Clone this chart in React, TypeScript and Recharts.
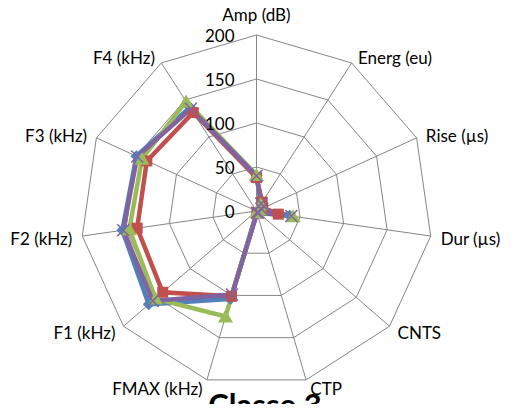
import React from "react";
import { RadarChart, Radar, PolarGrid, PolarAngleAxis, PolarRadiusAxis } from "recharts";

// axes of the radar, clockwise from the top
const categories = [
  "Amp (dB)",
  "Energ (eu)",
  "Rise (µs)",
  "Dur (µs)",
  "CNTS",
  "CTP",
  "FMAX (kHz)",
  "F1 (kHz)",
  "F2 (kHz)",
  "F3 (kHz)",
  "F4 (kHz)",
];

const serieBlue = [40, 10, 6, 38, 3, 2, 104, 162, 154, 150, 140];
const serieRed = [38, 12, 8, 25, 3, 2, 101, 141, 137, 137, 133];
const serieGreen = [41, 9, 5, 42, 2, 1, 125, 152, 146, 143, 148];
const seriePurple = [40, 10, 6, 40, 3, 2, 99, 156, 153, 149, 138];

const radiusTicks = [0, 50, 100, 150, 200];
const title = "Classe 3";

const data = categories.map((axis, i) => ({
  axis,
  blue: serieBlue[i],
  red: serieRed[i],
  green: serieGreen[i],
  purple: seriePurple[i],
}));

const FONT = "Lato, 'Open Sans', sans-serif";

const AngleTick = (props: any) => {
  const { x, y, payload, textAnchor } = props;
  const top = textAnchor === "middle" && y < 211;
  const dx = textAnchor === "start" ? 2 : textAnchor === "end" ? -2 : 0;
  return (
    <text
      x={x + dx}
      y={top ? y - 6 : y + 1}
      textAnchor={textAnchor}
      dominantBaseline={top ? "auto" : "central"}
      fontFamily={FONT}
      fontSize={17}
      fill="#000"
    >
      {payload.value}
    </text>
  );
};

const RadiusTick = (props: any) => {
  const { x, y, payload } = props;
  return (
    <text
      x={x - 22}
      y={y}
      textAnchor="end"
      dominantBaseline="central"
      fontFamily={FONT}
      fontSize={17}
      fill="#000"
    >
      {payload.value}
    </text>
  );
};

const diamond = (color: string) => (p: any) => {
  const { cx, cy, index } = p;
  const s = 6;
  return (
    <path
      key={"d" + index}
      d={`M${cx},${cy - s}L${cx + s},${cy}L${cx},${cy + s}L${cx - s},${cy}Z`}
      fill={color}
    />
  );
};

const square = (color: string) => (p: any) => {
  const { cx, cy, index } = p;
  return <rect key={"s" + index} x={cx - 5.5} y={cy - 5.5} width={11} height={11} fill={color} />;
};

const triangle = (color: string) => (p: any) => {
  const { cx, cy, index } = p;
  return (
    <path
      key={"t" + index}
      d={`M${cx},${cy - 7}L${cx + 7.5},${cy + 6}L${cx - 7.5},${cy + 6}Z`}
      fill={color}
    />
  );
};

const cross = (color: string) => (p: any) => {
  const { cx, cy, index } = p;
  const s = 6;
  return (
    <path
      key={"x" + index}
      d={`M${cx - s},${cy - s}L${cx + s},${cy + s}M${cx - s},${cy + s}L${cx + s},${cy - s}`}
      stroke={color}
      strokeWidth={1.5}
      fill="none"
    />
  );
};

export default function App() {
  return (
    <div style={{ margin: -8, width: 514, height: 412, position: "relative", overflow: "hidden", background: "#fff" }}>
      <RadarChart
        width={514}
        height={412}
        data={data}
        cx={256.5}
        cy={211}
        outerRadius={176}
        margin={{ top: 0, right: 0, bottom: 0, left: 0 }}
      >
        <PolarGrid gridType="polygon" stroke="#868686" strokeWidth={1} />
        <PolarAngleAxis dataKey="axis" tick={<AngleTick />} tickLine={false} axisLine={false} />
        <PolarRadiusAxis
          angle={90}
          domain={[0, 200]}
          ticks={radiusTicks as any}
          tickCount={5}
          axisLine={false}
          tickLine={false}
          tick={<RadiusTick />}
        />
        <Radar name="Série 1" dataKey="blue" stroke="#4F81BD" strokeWidth={4.5} fill="none" fillOpacity={0} dot={diamond("#4F81BD")} isAnimationActive={false} />
        <Radar name="Série 2" dataKey="red" stroke="#C0504D" strokeWidth={4.5} fill="none" fillOpacity={0} dot={square("#C0504D")} isAnimationActive={false} />
        <Radar name="Série 3" dataKey="green" stroke="#9BBB59" strokeWidth={4.5} fill="none" fillOpacity={0} dot={triangle("#9BBB59")} isAnimationActive={false} />
        <Radar name="Série 4" dataKey="purple" stroke="#8064A2" strokeWidth={4.5} fill="none" fillOpacity={0} dot={cross("#8064A2")} isAnimationActive={false} />
      </RadarChart>
      <svg width={514} height={412} style={{ position: "absolute", left: 0, top: 0, pointerEvents: "none" }}>
        <text x={265} y={416} textAnchor="middle" fontFamily={FONT} fontWeight="bold" fontSize={31} fill="#000">
          {title}
        </text>
      </svg>
    </div>
  );
}
